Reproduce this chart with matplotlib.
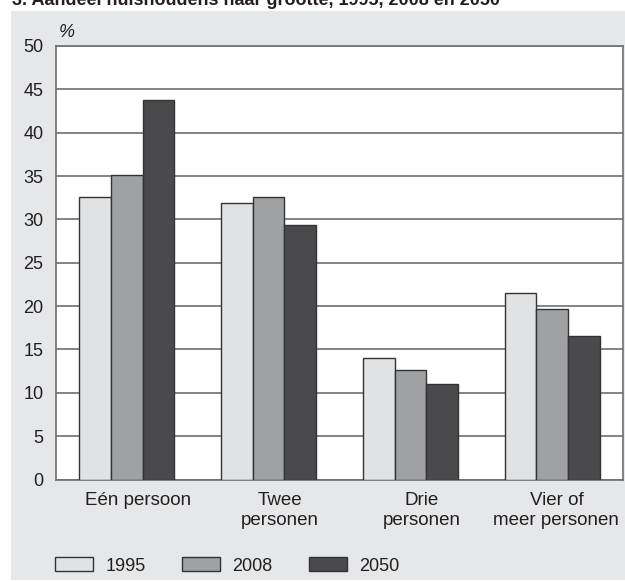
"""
Aandeel huishoudens naar grootte, 1995, 2008 en 2050.

Grouped bar chart, saved as out.png
"""

import matplotlib
matplotlib.use('Agg')
from matplotlib import pyplot as plt
from matplotlib.patches import Rectangle

categories = ['Eén persoon', 'Twee\npersonen', 'Drie\npersonen', 'Vier of\nmeer personen']
years = ['1995', '2008', '2050']
share_1995 = [32.6, 31.9, 14.0, 21.5]
share_2008 = [35.1, 32.6, 12.6, 19.7]
share_2050 = [43.8, 29.35, 11.0, 16.5]
y_ticks = [0, 5, 10, 15, 20, 25, 30, 35, 40, 45, 50]

colors = ['#e1e2e4', '#a0a1a3', '#4a4a4c']
text_color = '#231f20'
background = '#e6e7e8'

plt.rcParams['font.family'] = ['Liberation Sans', 'DejaVu Sans']
plt.rcParams['font.size'] = 13

fig = plt.figure(figsize=(6.25, 5.82), dpi=100)
fig.patch.set_facecolor('white')
# grey panel behind the chart
fig.patches.append(Rectangle(
    (11 / 625, 2 / 582), 1.0, 569 / 582,
    transform=fig.transFigure, facecolor=background, edgecolor='none', zorder=-10,
))

ax = fig.add_axes([56 / 625, 102.5 / 582, 567 / 625, 433.5 / 582])
ax.set_facecolor('white')

width = 0.223
series = [share_1995, share_2008, share_2050]
positions = list(range(len(categories)))
bars = []
for idx, values in enumerate(series):
    offset = (idx - 1) * width
    bars.append(ax.bar(
        [p + offset for p in positions], values, width=width,
        color=colors[idx], edgecolor='#333333', linewidth=1.0, zorder=3,
    ))

ax.set_xlim(-0.5, 3.5)
ax.set_ylim(0, 50)
ax.set_yticks(y_ticks)
ax.tick_params(axis='y', length=0, pad=9, colors=text_color, labelsize=13)
ax.yaxis.grid(True, color='#6d6e70', linewidth=1.2, zorder=0)
ax.set_axisbelow(True)
for side in ax.spines.values():
    side.set_color('#6d6e70')
    side.set_linewidth(1.2)

# category labels sit a little right of the group centre
label_x = [0.08, 1.08, 2.08, 3.03]
ax.set_xticks(label_x)
ax.set_xticklabels(categories, linespacing=1.25)
ax.tick_params(axis='x', length=0, pad=9, colors=text_color, labelsize=13.5)

ax.text(0.004, 1.012, '%', transform=ax.transAxes, style='italic',
        fontsize=13, color=text_color, va='bottom', ha='left')

fig.text(12 / 625, 1 - 5 / 582, '3. Aandeel huishoudens naar grootte, 1995, 2008 en 2050',
         fontsize=13, fontweight='bold', color=text_color, va='baseline', ha='left')

fig.legend(
    [b[0] for b in bars], years, loc='center left',
    bbox_to_anchor=(55 / 625, 1 - 566 / 582), ncol=3, frameon=False,
    handlelength=2.1, handleheight=0.8, handletextpad=0.7, columnspacing=2.0,
    borderpad=0, borderaxespad=0, fontsize=13, labelcolor=text_color,
)

fig.savefig('out.png', dpi=100, facecolor=fig.get_facecolor())
